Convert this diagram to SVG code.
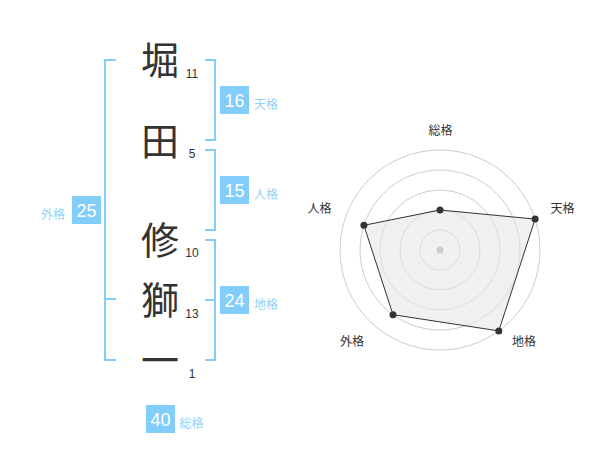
<svg xmlns="http://www.w3.org/2000/svg" width="600" height="470" viewBox="0 0 600 470">
<style>
.ch{font-family:"Noto Sans CJK JP","Noto Sans",sans-serif;font-size:38px;fill:#333;text-anchor:middle}
.num{font-family:"Liberation Sans",Arial,sans-serif;font-size:12px;fill:#333;text-anchor:middle}
.br{fill:none;stroke:#82cdf9;stroke-width:2}
.box{fill:#82cdf9}
.bv{font-family:"Liberation Sans",Arial,sans-serif;font-size:18px;fill:#fff;text-anchor:middle}
.bl{font-family:"Noto Sans CJK JP","Noto Sans",sans-serif;font-size:12px;fill:#8fd2fa}
.ring{fill:none;stroke:#cccccc;stroke-width:1}
.rl{font-family:"Noto Sans CJK JP","Noto Sans",sans-serif;font-size:12px;fill:#333;text-anchor:middle}
.pt{fill:#333}
</style>
<rect width="600" height="470" fill="#fff"/>
<g id="connectors">
<path class="br" d="M116,60H105V360H116M105,299H116"/>
<path class="br" d="M205,60H215V140H205"/>
<path class="br" d="M205,150H215V230H205"/>
<path class="br" d="M205,240H215V360H205M205,300H215"/>
</g>
<g id="chars">
<g id="c1"><text class="ch" x="160" y="74">堀</text><text class="num" x="192" y="77.5">11</text></g>
<g id="c2"><text class="ch" x="160" y="155">田</text><text class="num" x="192" y="157.5">5</text></g>
<g id="c3"><text class="ch" x="160" y="254">修</text><text class="num" x="192" y="256.5">10</text></g>
<g id="c4"><text class="ch" x="160" y="314">獅</text><text class="num" x="192" y="317.5">13</text></g>
<g id="c5"><text class="ch" x="160" y="374">一</text><text class="num" x="192" y="377.5">1</text></g>
</g>
<g id="tenkaku"><rect class="box" x="220" y="86" width="29" height="28"/><text class="bv" x="234.5" y="106.5">16</text><text class="bl" x="254" y="108.5">天格</text></g>
<g id="jinkaku"><rect class="box" x="220" y="176" width="29" height="28"/><text class="bv" x="234.5" y="196.5">15</text><text class="bl" x="254" y="198.5">人格</text></g>
<g id="chikaku"><rect class="box" x="220" y="286" width="29" height="28"/><text class="bv" x="234.5" y="306.5">24</text><text class="bl" x="254" y="308.5">地格</text></g>
<g id="gaikaku"><rect class="box" x="72" y="196" width="29" height="28"/><text class="bv" x="86.5" y="216.5">25</text><text class="bl" x="65" y="218.5" text-anchor="end">外格</text></g>
<g id="soukaku"><rect class="box" x="146" y="405" width="29" height="28"/><text class="bv" x="160.5" y="425.5">40</text><text class="bl" x="179.5" y="427.5">総格</text></g>
<g id="radar">
<circle class="ring" cx="440" cy="250" r="20"/>
<circle class="ring" cx="440" cy="250" r="40"/>
<circle class="ring" cx="440" cy="250" r="60"/>
<circle class="ring" cx="440" cy="250" r="80"/>
<circle class="ring" cx="440" cy="250" r="100"/>
<polygon points="440,210 535.1,219.1 498.8,330.9 393,314.7 363.9,225.3" fill="#e6e6e6" fill-opacity="0.6" stroke="#333" stroke-width="1"/>
<circle cx="440" cy="250" r="3.5" fill="#cccccc"/>
<circle class="pt" cx="440" cy="210" r="3.5"/>
<circle class="pt" cx="535.1" cy="219.1" r="3.5"/>
<circle class="pt" cx="498.8" cy="330.9" r="3.5"/>
<circle class="pt" cx="393" cy="314.7" r="3.5"/>
<circle class="pt" cx="363.9" cy="225.3" r="3.5"/>
<text class="rl" x="440.5" y="134.5">総格</text>
<text class="rl" x="562.5" y="213">天格</text>
<text class="rl" x="319.5" y="213">人格</text>
<text class="rl" x="352" y="346">外格</text>
<text class="rl" x="524" y="346">地格</text>
</g>
</svg>
